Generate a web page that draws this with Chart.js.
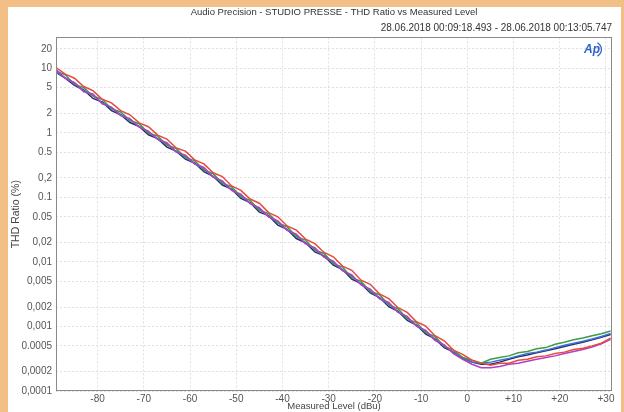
<!DOCTYPE html>
<html>
<head>
<meta charset="utf-8">
<title>THD Ratio vs Measured Level</title>
<script src="https://cdn.jsdelivr.net/npm/chart.js@4.4.1/dist/chart.umd.min.js"></script>
<style>
  html, body { margin: 0; padding: 0; background: #f2bf86; }
  #thdChart { display: block; }
</style>
</head>
<body>
<canvas id="thdChart" width="624" height="412"></canvas>
<script>
// measured level in dBu
const levels = [-89, -87, -85, -83, -81, -79, -77, -75, -73, -71, -69, -67, -65, -63, -61, -59,
  -57, -55, -53, -51, -49, -47, -45, -43, -41, -39, -37, -35, -33, -31, -29, -27, -25, -23,
  -21, -19, -17, -15, -13, -11, -9, -7, -5, -3, -1, 1, 3, 5, 7, 9, 11, 13, 15, 17, 19, 21,
  23, 25, 27, 29, 31];

// THD ratio in %, one array per trace
const redThd = [10.2, 8.1, 7.0, 5.2, 4.5, 3.3, 2.9, 2.2, 1.9, 1.42, 1.24, 0.92, 0.8, 0.58, 0.52, 0.38,
  0.33, 0.24, 0.21, 0.15, 0.128, 0.094, 0.081, 0.058, 0.05, 0.036, 0.031, 0.0225, 0.0192, 0.014, 0.012, 0.0086, 0.0074, 0.0052,
  0.0045, 0.0032, 0.0027, 0.00195, 0.00165, 0.00118, 0.00101, 0.00072, 0.0006, 0.00043, 0.00037, 0.0003, 0.00027, 0.00025, 0.00027, 0.00027, 0.0003, 0.00031, 0.00034, 0.00035, 0.00038, 0.0004,
  0.00044, 0.00046, 0.0005, 0.00055, 0.00066];

const greenThd = [9.0, 7.9, 5.6, 5.0, 3.7, 3.3, 2.35, 2.1, 1.55, 1.38, 0.98, 0.89, 0.64, 0.57, 0.41, 0.37,
  0.265, 0.232, 0.165, 0.146, 0.102, 0.09, 0.063, 0.056, 0.04, 0.035, 0.0245, 0.0218, 0.0152, 0.0135, 0.0094, 0.0083, 0.0057, 0.005,
  0.0035, 0.0031, 0.00215, 0.00188, 0.0013, 0.00115, 0.0008, 0.0007, 0.00049, 0.00043, 0.00033, 0.0003, 0.00027, 0.00031, 0.00033, 0.00035, 0.00039, 0.00041, 0.00045, 0.00047, 0.00053, 0.00057,
  0.00062, 0.00066, 0.00072, 0.00077, 0.00085];

const blueThd = [8.8, 7.1, 6.0, 4.5, 3.8, 2.9, 2.45, 1.9, 1.6, 1.24, 1.03, 0.8, 0.67, 0.51, 0.43, 0.33,
  0.275, 0.208, 0.172, 0.13, 0.106, 0.081, 0.066, 0.05, 0.041, 0.031, 0.0256, 0.0193, 0.0158, 0.012, 0.0098, 0.0074, 0.006, 0.0045,
  0.0036, 0.0027, 0.00222, 0.00168, 0.00136, 0.00102, 0.00083, 0.00062, 0.00051, 0.00039, 0.00033, 0.00028, 0.00027, 0.00028, 0.0003, 0.00032, 0.00035, 0.00038, 0.0004, 0.00043, 0.00047, 0.00051,
  0.00055, 0.00059, 0.00064, 0.0007, 0.00078];

const magentaThd = [9.5, 7.0, 5.9, 4.3, 4.0, 2.8, 2.5, 1.85, 1.66, 1.22, 1.06, 0.79, 0.7, 0.5, 0.45, 0.33,
  0.29, 0.205, 0.18, 0.128, 0.112, 0.08, 0.069, 0.05, 0.043, 0.031, 0.027, 0.019, 0.0166, 0.0118, 0.0103, 0.0073, 0.0063, 0.0044,
  0.0038, 0.0027, 0.00235, 0.00165, 0.00143, 0.00101, 0.00087, 0.00061, 0.00052, 0.00038, 0.00031, 0.00026, 0.00023, 0.00023, 0.00024, 0.00026, 0.00027, 0.00029, 0.00031, 0.00033, 0.00035, 0.00038,
  0.00041, 0.00044, 0.00048, 0.00054, 0.00063];

const navyThd = [8.6, 7.0, 5.4, 4.6, 3.4, 3.0, 2.2, 1.9, 1.44, 1.25, 0.93, 0.81, 0.6, 0.52, 0.39, 0.34,
  0.25, 0.212, 0.155, 0.134, 0.096, 0.083, 0.059, 0.052, 0.037, 0.032, 0.023, 0.0198, 0.0143, 0.0124, 0.0089, 0.0076, 0.0054, 0.0046,
  0.0033, 0.0028, 0.00202, 0.00172, 0.00124, 0.00105, 0.00076, 0.00064, 0.00047, 0.0004, 0.00032, 0.00028, 0.00026, 0.00026, 0.00028, 0.00031, 0.00034, 0.00036, 0.00039, 0.00042, 0.00045, 0.00049,
  0.00053, 0.00057, 0.00062, 0.00068, 0.00075];

const xTicks = [-80, -70, -60, -50, -40, -30, -20, -10, 0, 10, 20, 30];
const xTickLabels = ['-80', '-70', '-60', '-50', '-40', '-30', '-20', '-10', '0', '+10', '+20', '+30'];

const yTicks = [0.0001, 0.0002, 0.0005, 0.001, 0.002, 0.005, 0.01, 0.02, 0.05, 0.1, 0.2, 0.5, 1, 2, 5, 10, 20];
const yTickLabels = ['0,0001', '0,0002', '0.0005', '0,001', '0,002', '0,005', '0,01', '0,02', '0.05', '0.1', '0,2', '0.5', '1', '2', '5', '10', '20'];

const FONT = 'Liberation Sans';

function series(values) {
  return levels.map((lv, i) => ({ x: lv, y: values[i] }));
}

// paper background, white panel, plot frame and the Ap logo
const framePlugin = {
  id: 'frame',
  beforeDraw(chart) {
    const c = chart.ctx;
    c.save();
    c.fillStyle = '#f2bf86';
    c.fillRect(0, 0, chart.width, chart.height);
    c.fillStyle = '#ffffff';
    c.fillRect(8, 7, 613, 405);
    c.restore();
  },
  afterDraw(chart) {
    const a = chart.chartArea;
    const c = chart.ctx;
    c.save();
    c.strokeStyle = '#8a8a8a';
    c.lineWidth = 1;
    c.strokeRect(Math.round(a.left) + 0.5, Math.round(a.top) + 0.5,
      Math.round(a.right - a.left) - 1, Math.round(a.bottom - a.top) - 1);
    // logo
    c.fillStyle = '#2a63c8';
    c.strokeStyle = '#2a63c8';
    c.font = 'italic bold 12px ' + FONT;
    c.textBaseline = 'middle';
    c.fillText('Ap', a.right - 28, a.top + 12);
    c.beginPath();
    c.lineWidth = 1.3;
    c.arc(a.right - 18, a.top + 12, 7.5, -1.1, 1.1);
    c.stroke();
    c.restore();
  }
};

const ctx = document.getElementById('thdChart').getContext('2d');
const thdChart = new Chart(ctx, {
  type: 'line',
  data: {
    datasets: [
      { label: 'Ch1', data: series(redThd), borderColor: '#e64a3e' },
      { label: 'Ch2', data: series(magentaThd), borderColor: '#b23fc4' },
      { label: 'Ch3', data: series(greenThd), borderColor: '#3c9c48' },
      { label: 'Ch4', data: series(blueThd), borderColor: '#4170d6' },
      { label: 'Ch5', data: series(navyThd), borderColor: '#252f70' }
    ]
  },
  options: {
    responsive: false,
    animation: false,
    devicePixelRatio: 1,
    layout: { padding: { left: 0, right: 12, top: 0, bottom: 0 } },
    elements: {
      point: { radius: 0 },
      line: { borderWidth: 1.5, tension: 0, fill: false }
    },
    plugins: {
      legend: { display: false },
      tooltip: { enabled: false },
      title: {
        display: true,
        fullSize: false,
        text: 'Audio Precision - STUDIO PRESSE - THD Ratio vs Measured Level',
        color: '#333',
        font: { family: FONT, size: 9.5, weight: 'normal' },
        padding: { top: 7, bottom: 2 }
      },
      subtitle: {
        display: true,
        fullSize: false,
        align: 'end',
        text: '28.06.2018 00:09:18.493 - 28.06.2018 00:13:05.747',
        color: '#333',
        font: { family: FONT, size: 10 },
        padding: { top: 2, bottom: 3 }
      }
    },
    scales: {
      x: {
        type: 'linear',
        min: -89,
        max: 31.3,
        afterBuildTicks(scale) {
          scale.ticks = xTicks.map(v => ({ value: v }));
        },
        afterFit(scale) {
          scale.height = 21;
        },
        ticks: {
          color: '#555',
          padding: 2,
          maxRotation: 0,
          font: { family: FONT, size: 10 },
          callback: (v, i) => xTickLabels[i]
        },
        grid: { color: '#e0e0e0', drawTicks: false },
        border: { display: false, dash: [2, 2] },
        title: {
          display: true,
          text: 'Measured Level (dBu)',
          color: '#444',
          font: { family: FONT, size: 9.5 },
          padding: { top: 0, bottom: 0 }
        }
      },
      y: {
        type: 'logarithmic',
        min: 0.0001,
        max: 30,
        afterBuildTicks(scale) {
          scale.ticks = yTicks.map(v => ({ value: v }));
        },
        afterFit(scale) {
          scale.width = 56;
        },
        ticks: {
          color: '#555',
          padding: 4,
          font: { family: FONT, size: 10 },
          callback: (v, i) => yTickLabels[i]
        },
        grid: { color: '#e0e0e0', drawTicks: false },
        border: { display: false, dash: [2, 2] },
        title: {
          display: true,
          text: 'THD Ratio (%)',
          color: '#444',
          font: { family: FONT, size: 10.5 },
          padding: { top: 10, bottom: 0 }
        }
      }
    }
  },
  plugins: [framePlugin]
});
</script>
</body>
</html>
